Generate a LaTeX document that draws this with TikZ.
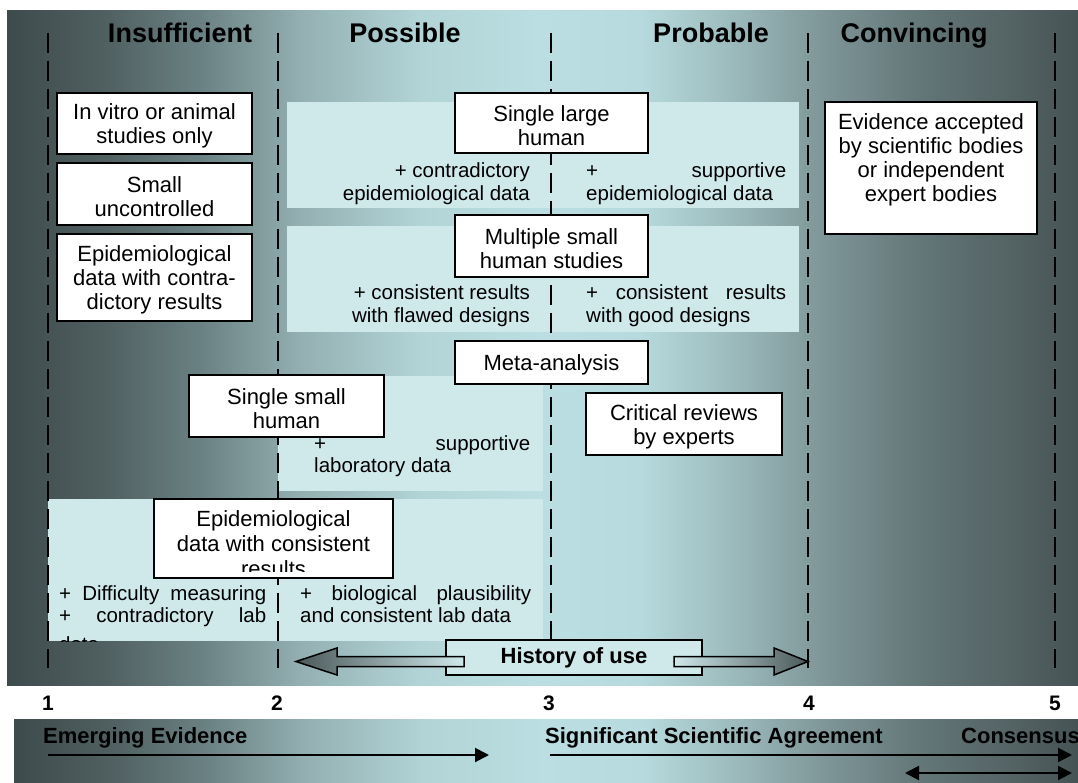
\documentclass[tikz,border=0pt]{standalone}
\usepackage{fontspec}
\setmainfont{Liberation Sans}
\usetikzlibrary{arrows.meta}
\definecolor{pale}{HTML}{CFE8EA}
\definecolor{adark}{HTML}{4A5859}
\definecolor{g0}{HTML}{3E4B4C}
\definecolor{g1}{HTML}{4F5E5F}
\definecolor{g2}{HTML}{6A8183}
\definecolor{g3}{HTML}{93AFB1}
\definecolor{g4}{HTML}{B2D4D7}
\definecolor{g5}{HTML}{BADEE1}
\definecolor{g6}{HTML}{B6DADD}
\definecolor{g7}{HTML}{A0BFC1}
\definecolor{g8}{HTML}{7F9799}
\definecolor{g9}{HTML}{637678}
\definecolor{g10}{HTML}{566566}
\definecolor{g11}{HTML}{465354}
\pgfdeclarehorizontalshading{bgshade}{100bp}{color(0bp)=(g0); color(25bp)=(g0); color(29.34bp)=(g1); color(34.01bp)=(g2); color(38.68bp)=(g3); color(44.28bp)=(g4); color(49.88bp)=(g5); color(54.55bp)=(g6); color(58.29bp)=(g7); color(62.96bp)=(g8); color(67.63bp)=(g9); color(71.36bp)=(g10); color(75bp)=(g11); color(100bp)=(g11)}
\newcommand\bxt[3]{\parbox[c][#2][c]{#1}{\centering\vspace*{5pt}#3}}
\tikzset{
  bx/.style={draw=black, line width=1.8pt, fill=white, inner sep=0pt, font=\fontsize{22}{24}\selectfont},
  pnl/.style={fill=pale, inner sep=0pt, draw=none},
  ptxt/.style={inner sep=0pt, font=\fontsize{20.5}{22.5}\selectfont},
  hdr/.style={inner sep=0pt, font=\fontsize{27}{30}\selectfont\bfseries},
  num/.style={inner sep=0pt, font=\fontsize{21}{24}\selectfont\bfseries},
  blab/.style={inner sep=0pt, font=\fontsize{22}{24}\selectfont\bfseries},
  guide/.style={line width=2pt, dash pattern=on 20pt off 8pt},
  evarrow/.style={line width=2pt, -{Triangle[length=14pt,width=14pt]}},
  evdouble/.style={line width=2pt, {Triangle[length=14pt,width=14pt]}-{Triangle[length=14pt,width=14pt]}},
  blockarrow/.style={draw=black, line width=1.5pt},
}
\begin{document}
\begin{tikzpicture}[x=1pt,y=-1pt]
\useasboundingbox (0,0) rectangle (1078,783);
\fill[white] (0,0) rectangle (1078,783);
% backgrounds
\path[shading=bgshade] (7,11) rectangle (1078,685);
\path[shading=bgshade] (14,719) rectangle (1078,783);
% pale panels
\node[pnl, minimum width=512, minimum height=106] (p1) at (543,155) {};
\node[pnl, minimum width=512, minimum height=106] (p2) at (543,279) {};
\node[pnl, minimum width=265, minimum height=115] (p3) at (410.5,433.5) {};
\node[pnl, minimum width=495, minimum height=142] (p4) at (295.5,570) {};
% dashed guides
\foreach \i/\x in {1/48,2/278,3/551,4/808,5/1055}{
  \coordinate (d\i t) at (\x,33);
  \coordinate (d\i b) at (\x,668);
  \draw[guide] (d\i t) -- (d\i b);
}
% panel texts
\begin{scope}
\clip (p1.south west) rectangle (p1.north east);
\node[ptxt, anchor=base east] (t1a) at (530,178) {\parbox[t]{200pt}{\raggedleft + contradictory\\epidemiological data}};
\node[ptxt, anchor=base west] (t1b) at (586,178) {\parbox[t]{200pt}{\makebox[200pt][s]{+ supportive}\\epidemiological data}};
\end{scope}
\begin{scope}
\clip (p2.south west) rectangle (p2.north east);
\node[ptxt, anchor=base east] (t2a) at (530,300) {\parbox[t]{200pt}{\raggedleft + consistent results\\with flawed designs}};
\node[ptxt, anchor=base west] (t2b) at (586,300) {\parbox[t]{200pt}{\makebox[200pt][s]{+ consistent results}\\with good designs}};
\end{scope}
\begin{scope}
\clip (p3.south west) rectangle (p3.north east);
\node[ptxt, anchor=base west] (t3) at (314,450) {\parbox[t]{216pt}{\makebox[216pt][s]{+ supportive}\\laboratory data}};
\end{scope}
\begin{scope}
\clip (p4.south west) rectangle (p4.north east);
\node[ptxt, anchor=base west] (t4a) at (59,600) {\parbox[t]{207pt}{\makebox[207pt][s]{+ Difficulty measuring}\\\makebox[207pt][s]{+ contradictory lab}\\[6pt]data}};
\node[ptxt, anchor=base west] (t4b) at (300,600) {\parbox[t]{231pt}{\makebox[231pt][s]{+ biological plausibility}\\and consistent lab data}};
\end{scope}
% white boxes
\node[bx, minimum width=195, minimum height=61] (vitro) at (154.5,123.5) {\bxt{190pt}{61pt}{In vitro or animal\\studies only}};
\node[bx, minimum width=195, minimum height=62] (small) at (154.5,194) {\bxt{190pt}{62pt}{Small\\uncontrolled}};
\node[bx, minimum width=195, minimum height=87] (epic) at (154.5,277.5) {\bxt{190pt}{87pt}{Epidemiological\\data with contra-\\dictory results}};
\node[bx, minimum width=193, minimum height=60] (large) at (551.5,123) {\bxt{188pt}{60pt}{Single large\\human}};
\node[bx, minimum width=193, minimum height=62] (multi) at (551.5,246) {\bxt{188pt}{62pt}{Multiple small\\human studies}};
\node[bx, minimum width=193, minimum height=43] (meta) at (551.5,362.5) {\bxt{188pt}{43pt}{Meta-analysis}};
\node[bx, minimum width=195, minimum height=62] (ssmall) at (286.5,406) {\bxt{190pt}{62pt}{Single small\\human}};
\node[bx, minimum width=196, minimum height=62] (crit) at (684,424) {\bxt{190pt}{62pt}{Critical reviews\\by experts}};
\node[bx, minimum width=212, minimum height=132] (evid) at (931,168) {\parbox[c][132pt][t]{206pt}{\centering\vspace*{12pt}Evidence accepted\\by scientific bodies\\or independent\\expert bodies}};
\node[bx, minimum width=239, minimum height=79] (epis) at (273.5,538.5) {};
\begin{scope}
\clip ([shift={(2,-7)}]epis.south west) rectangle ([shift={(-2,2)}]epis.north east);
\node[inner sep=0pt, anchor=base, font=\fontsize{22}{25}\selectfont] (epistxt) at (273.5,526) {\parbox[t]{235pt}{\centering Epidemiological\\data with consistent\\results}};
\end{scope}
% headers
\node[hdr, anchor=base] (h1) at (180,43) {Insufficient};
\node[hdr, anchor=base] (h2) at (405,43) {Possible};
\node[hdr, anchor=base] (h3) at (711,43) {Probable};
\node[hdr, anchor=base] (h4) at (914,43) {Convincing};
% history of use
\node[draw=black, line width=1.5pt, fill=pale, minimum width=256, minimum height=35, inner sep=0pt, font=\fontsize{22}{24}\selectfont\bfseries] (hist) at (574,657.5) {History of use};
\path[blockarrow, left color=adark, right color=pale] (296,661.5) -- (337,648) -- (337,656.5) -- (464,656.5) -- (464,666.5) -- (337,666.5) -- (337,675) -- cycle;
\path[blockarrow, left color=pale, right color=adark] (674,656.5) -- (774,656.5) -- (774,648) -- (808,661.5) -- (774,675) -- (774,666.5) -- (674,666.5) -- cycle;
% numbers
\node[num, anchor=base] (n1) at (48,710) {1};
\node[num, anchor=base] (n2) at (277,710) {2};
\node[num, anchor=base] (n3) at (549,710) {3};
\node[num, anchor=base] (n4) at (809,710) {4};
\node[num, anchor=base] (n5) at (1055,710) {5};
% bottom labels and arrows
\node[blab, anchor=base west] (emerg) at (43,743) {Emerging Evidence};
\node[blab, anchor=base west] (ssa) at (545,743) {Significant Scientific Agreement};
\node[blab, anchor=base west] (cons) at (961,743) {Consensus};
\coordinate (a1s) at (48,755);
\coordinate (a1e) at (489,755);
\coordinate (a2s) at (550,755);
\coordinate (a2e) at (1072,755);
\coordinate (a3s) at (905,773);
\coordinate (a3e) at (1072,773);
\draw[evarrow] (a1s) -- (a1e);
\draw[evarrow] (a2s) -- (a2e);
\draw[evdouble] (a3s) -- (a3e);
\end{tikzpicture}
\end{document}
